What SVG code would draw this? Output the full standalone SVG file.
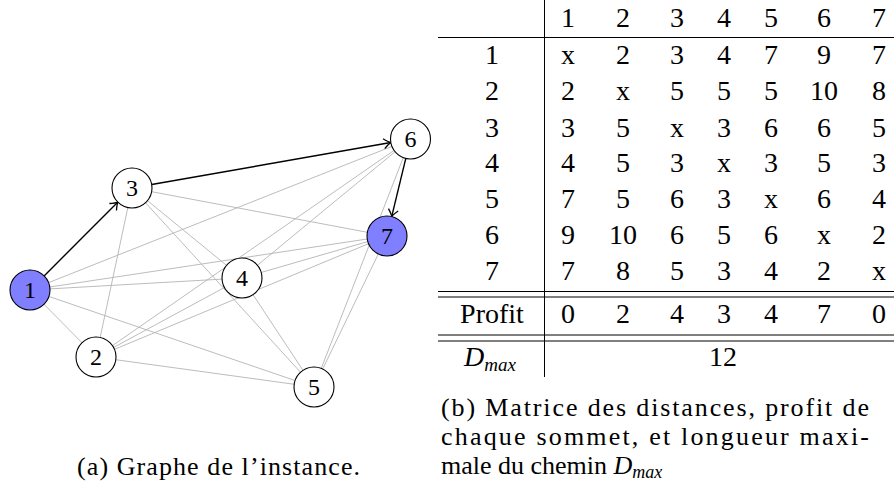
<svg xmlns="http://www.w3.org/2000/svg" width="894" height="495" viewBox="0 0 894 495">
<style>
.e{stroke:#b4b4b4;stroke-width:0.9;fill:none}
.a{stroke:#000;stroke-width:1.4;fill:none}
.n{fill:#fff;stroke:#000;stroke-width:1.1}
.b{fill:#7f7fff;stroke:#000;stroke-width:1.1}
.l{font-family:"Liberation Serif",serif;font-size:24px;fill:#000;text-anchor:middle}
.t{font-family:"Liberation Serif",serif;font-size:28px;fill:#000;text-anchor:middle}
.c{font-family:"Liberation Serif",serif;font-size:26px;fill:#000}
.r{stroke:#000;stroke-width:1}
</style>
<defs>
<marker id="ar" viewBox="-9 -6 11 12" refX="0" refY="0" markerWidth="11" markerHeight="12" markerUnits="userSpaceOnUse" orient="auto">
<path d="M-7,-5 Q-2.5,-1 0,0 Q-2.5,1 -7,5" fill="none" stroke="#000" stroke-width="1.3"/>
</marker>
</defs>
<rect width="894" height="495" fill="#fff"/>
<g id="edges">
<line class="e" x1="30" y1="290" x2="96" y2="357"/>
<line class="e" x1="30" y1="290" x2="242" y2="278"/>
<line class="e" x1="30" y1="290" x2="314" y2="387"/>
<line class="e" x1="30" y1="290" x2="410.5" y2="139"/>
<line class="e" x1="30" y1="290" x2="387" y2="236"/>
<line class="e" x1="96" y1="357" x2="132" y2="188"/>
<line class="e" x1="96" y1="357" x2="242" y2="278"/>
<line class="e" x1="96" y1="357" x2="314" y2="387"/>
<line class="e" x1="96" y1="357" x2="410.5" y2="139"/>
<line class="e" x1="96" y1="357" x2="387" y2="236"/>
<line class="e" x1="132" y1="188" x2="242" y2="278"/>
<line class="e" x1="132" y1="188" x2="314" y2="387"/>
<line class="e" x1="132" y1="188" x2="387" y2="236"/>
<line class="e" x1="242" y1="278" x2="314" y2="387"/>
<line class="e" x1="242" y1="278" x2="410.5" y2="139"/>
<line class="e" x1="242" y1="278" x2="387" y2="236"/>
<line class="e" x1="314" y1="387" x2="410.5" y2="139"/>
<line class="e" x1="314" y1="387" x2="387" y2="236"/>
<line class="a" x1="44.1" y1="275.9" x2="117.9" y2="202.1" marker-end="url(#ar)"/>
<line class="a" x1="151.7" y1="184.5" x2="390.8" y2="142.5" marker-end="url(#ar)"/>
<line class="a" x1="405.8" y1="158.4" x2="391.7" y2="216.6" marker-end="url(#ar)"/>
</g>
<g id="node1"><circle class="b" cx="30" cy="290" r="20"/><text class="l" x="30" y="298">1</text></g>
<g id="node2"><circle class="n" cx="96" cy="357" r="20"/><text class="l" x="96" y="365">2</text></g>
<g id="node3"><circle class="n" cx="132" cy="188" r="20"/><text class="l" x="132" y="196">3</text></g>
<g id="node4"><circle class="n" cx="242" cy="278" r="20"/><text class="l" x="242" y="286">4</text></g>
<g id="node5"><circle class="n" cx="314" cy="387" r="20"/><text class="l" x="314" y="395">5</text></g>
<g id="node6"><circle class="n" cx="410.5" cy="139" r="20"/><text class="l" x="410.5" y="147">6</text></g>
<g id="node7"><circle class="b" cx="387" cy="236" r="20"/><text class="l" x="387" y="244">7</text></g>
<g id="table">
<line class="r" x1="544.5" y1="0" x2="544.5" y2="377"/>
<line class="r" x1="438" y1="37.5" x2="894" y2="37.5"/>
<line class="r" x1="438" y1="291.5" x2="894" y2="291.5"/>
<line class="r" x1="438" y1="297" x2="894" y2="297"/>
<line class="r" x1="438" y1="335" x2="894" y2="335"/>
<line class="r" x1="438" y1="341" x2="894" y2="341"/>
<g class="t">
<text x="568" y="26.5">1</text><text x="623" y="26.5">2</text><text x="677" y="26.5">3</text><text x="724" y="26.5">4</text><text x="771" y="26.5">5</text><text x="824" y="26.5">6</text><text x="879" y="26.5">7</text>
<text x="492" y="63.5">1</text><text x="568" y="63.5">x</text><text x="623" y="63.5">2</text><text x="677" y="63.5">3</text><text x="724" y="63.5">4</text><text x="771" y="63.5">7</text><text x="824" y="63.5">9</text><text x="879" y="63.5">7</text>
<text x="492" y="100">2</text><text x="568" y="100">2</text><text x="623" y="100">x</text><text x="677" y="100">5</text><text x="724" y="100">5</text><text x="771" y="100">5</text><text x="824" y="100">10</text><text x="879" y="100">8</text>
<text x="492" y="136.5">3</text><text x="568" y="136.5">3</text><text x="623" y="136.5">5</text><text x="677" y="136.5">x</text><text x="724" y="136.5">3</text><text x="771" y="136.5">6</text><text x="824" y="136.5">6</text><text x="879" y="136.5">5</text>
<text x="492" y="172">4</text><text x="568" y="172">4</text><text x="623" y="172">5</text><text x="677" y="172">3</text><text x="724" y="172">x</text><text x="771" y="172">3</text><text x="824" y="172">5</text><text x="879" y="172">3</text>
<text x="492" y="207.5">5</text><text x="568" y="207.5">7</text><text x="623" y="207.5">5</text><text x="677" y="207.5">6</text><text x="724" y="207.5">3</text><text x="771" y="207.5">x</text><text x="824" y="207.5">6</text><text x="879" y="207.5">4</text>
<text x="492" y="244">6</text><text x="568" y="244">9</text><text x="623" y="244">10</text><text x="677" y="244">6</text><text x="724" y="244">5</text><text x="771" y="244">6</text><text x="824" y="244">x</text><text x="879" y="244">2</text>
<text x="492" y="280">7</text><text x="568" y="280">7</text><text x="623" y="280">8</text><text x="677" y="280">5</text><text x="724" y="280">3</text><text x="771" y="280">4</text><text x="824" y="280">2</text><text x="879" y="280">x</text>
<text x="492" y="323">Profit</text><text x="568" y="323">0</text><text x="623" y="323">2</text><text x="677" y="323">4</text><text x="724" y="323">3</text><text x="771" y="323">4</text><text x="824" y="323">7</text><text x="879" y="323">0</text>
<text x="490" y="366"><tspan font-style="italic">D</tspan><tspan font-style="italic" font-size="19" dy="5">max</tspan></text>
<text x="723" y="366">12</text>
</g>
</g>
<g id="captions">
<text class="c" x="77" y="475" textLength="283" lengthAdjust="spacing">(a) Graphe de l’instance.</text>
<text class="c" x="441" y="416" textLength="428" lengthAdjust="spacing">(b) Matrice des distances, profit de</text>
<text class="c" x="441" y="445" textLength="428" lengthAdjust="spacing">chaque sommet, et longueur maxi-</text>
<text class="c" x="441" y="474">male du chemin <tspan font-style="italic">D</tspan><tspan font-style="italic" font-size="18" dy="4">max</tspan></text>
</g>
</svg>
